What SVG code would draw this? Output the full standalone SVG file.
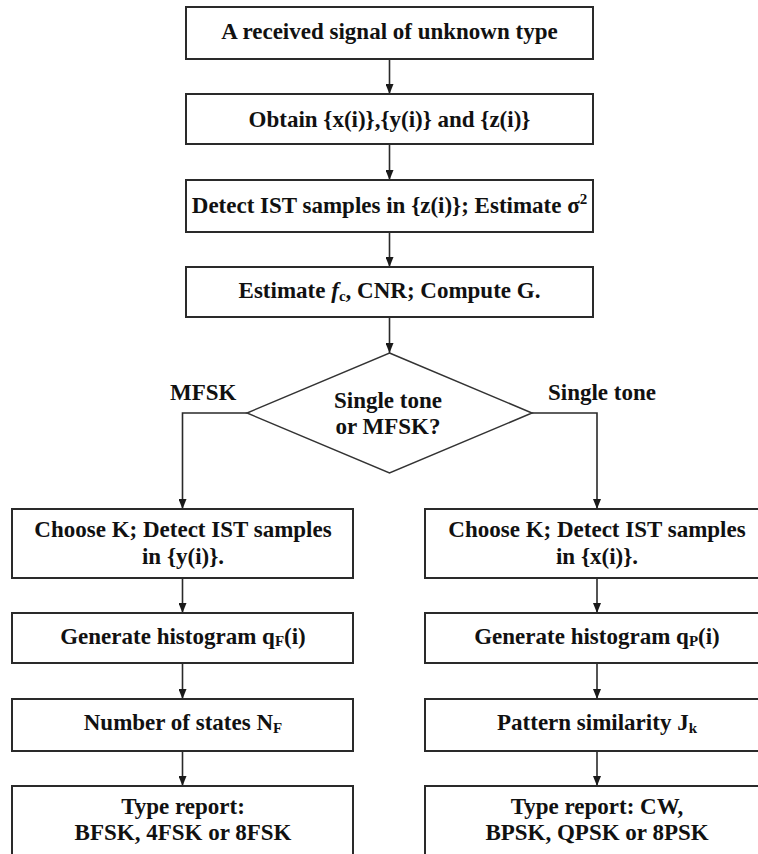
<svg xmlns="http://www.w3.org/2000/svg" width="758" height="854" viewBox="0 0 758 854">
  <style>
    .box { fill: #ffffff; stroke: #2a2a2a; stroke-width: 2; }
    .dia { fill: #ffffff; stroke: #333333; stroke-width: 1.5; }
    .edge { fill: none; stroke: #2a2a2a; stroke-width: 1.6; }
    text { font-family: 'Liberation Serif', Tinos, 'Times New Roman', serif; font-weight: bold; font-size: 23px; fill: #111111; }
    .t { text-anchor: middle; }
    .sub { font-size: 15px; }
  </style>
  <defs>
    <marker id="arrow" markerWidth="10" markerHeight="8" refX="10" refY="4" orient="auto" markerUnits="userSpaceOnUse">
      <path d="M0,0 L10,4 L0,8 Z" fill="#1a1a1a"/>
    </marker>
  </defs>
  <rect width="758" height="854" fill="#ffffff"/>

  <!-- connectors -->
  <g id="connectors">
    <path class="edge" d="M389.5,59 V94" marker-end="url(#arrow)"/>
    <path class="edge" d="M389.5,144 V180" marker-end="url(#arrow)"/>
    <path class="edge" d="M389.5,232 V267" marker-end="url(#arrow)"/>
    <path class="edge" d="M389.5,317 V353" marker-end="url(#arrow)"/>
    <path class="edge" d="M247,413 H182.5 V509" marker-end="url(#arrow)"/>
    <path class="edge" d="M532,413 H597 V509" marker-end="url(#arrow)"/>
    <path class="edge" d="M182.5,578 V613" marker-end="url(#arrow)"/>
    <path class="edge" d="M182.5,663 V699" marker-end="url(#arrow)"/>
    <path class="edge" d="M182.5,751 V786" marker-end="url(#arrow)"/>
    <path class="edge" d="M597,578 V613" marker-end="url(#arrow)"/>
    <path class="edge" d="M597,663 V699" marker-end="url(#arrow)"/>
    <path class="edge" d="M597,751 V786" marker-end="url(#arrow)"/>
  </g>

  <!-- main column -->
  <g id="received">
    <rect class="box" x="186" y="7" width="407" height="52"/>
    <text class="t" x="389.5" y="39">A received signal of unknown type</text>
  </g>
  <g id="obtain">
    <rect class="box" x="186" y="94" width="407" height="50"/>
    <text class="t" x="389.5" y="127">Obtain {x(i)},{y(i)} and {z(i)}</text>
  </g>
  <g id="detect-z">
    <rect class="box" x="186" y="180" width="407" height="52"/>
    <text class="t" x="389.5" y="213">Detect IST samples in {z(i)}; Estimate σ<tspan class="sub" dy="-9">2</tspan></text>
  </g>
  <g id="estimate">
    <rect class="box" x="186" y="267" width="407" height="50"/>
    <text class="t" x="389.5" y="298">Estimate <tspan font-style="italic">f</tspan><tspan class="sub" dy="3">c</tspan><tspan dy="-3">, CNR; Compute G.</tspan></text>
  </g>
  <g id="decision">
    <polygon class="dia" points="389.5,353 532,413 389.5,473 247,413"/>
    <text class="t" x="388" y="408">Single tone</text>
    <text class="t" x="388" y="434">or MFSK?</text>
  </g>
  <g id="branch-labels">
    <text x="170" y="400">MFSK</text>
    <text x="548" y="400">Single tone</text>
  </g>

  <!-- MFSK column -->
  <g id="detect-y">
    <rect class="box" x="12" y="509" width="341" height="69"/>
    <text class="t" x="183" y="537">Choose K; Detect IST samples</text>
    <text class="t" x="183" y="564">in {y(i)}.</text>
  </g>
  <g id="hist-f">
    <rect class="box" x="12" y="613" width="341" height="50"/>
    <text class="t" x="183" y="644">Generate histogram q<tspan class="sub" dy="2">F</tspan><tspan dy="-2">(i)</tspan></text>
  </g>
  <g id="states">
    <rect class="box" x="12" y="699" width="341" height="52"/>
    <text class="t" x="183" y="730">Number of states N<tspan class="sub" dy="3">F</tspan></text>
  </g>
  <g id="report-fsk">
    <rect class="box" x="12" y="786" width="341" height="80"/>
    <text class="t" x="183" y="814">Type report:</text>
    <text class="t" x="183" y="840">BFSK, 4FSK or 8FSK</text>
  </g>

  <!-- single tone column -->
  <g id="detect-x">
    <rect class="box" x="425" y="509" width="344" height="69"/>
    <text class="t" x="597" y="537">Choose K; Detect IST samples</text>
    <text class="t" x="597" y="564">in {x(i)}.</text>
  </g>
  <g id="hist-p">
    <rect class="box" x="425" y="613" width="344" height="50"/>
    <text class="t" x="597" y="644">Generate histogram q<tspan class="sub" dy="2">P</tspan><tspan dy="-2">(i)</tspan></text>
  </g>
  <g id="similarity">
    <rect class="box" x="425" y="699" width="344" height="52"/>
    <text class="t" x="597" y="730">Pattern similarity J<tspan class="sub" dy="3">k</tspan></text>
  </g>
  <g id="report-psk">
    <rect class="box" x="425" y="786" width="344" height="80"/>
    <text class="t" x="597" y="814">Type report: CW,</text>
    <text class="t" x="597" y="840">BPSK, QPSK or 8PSK</text>
  </g>
</svg>
